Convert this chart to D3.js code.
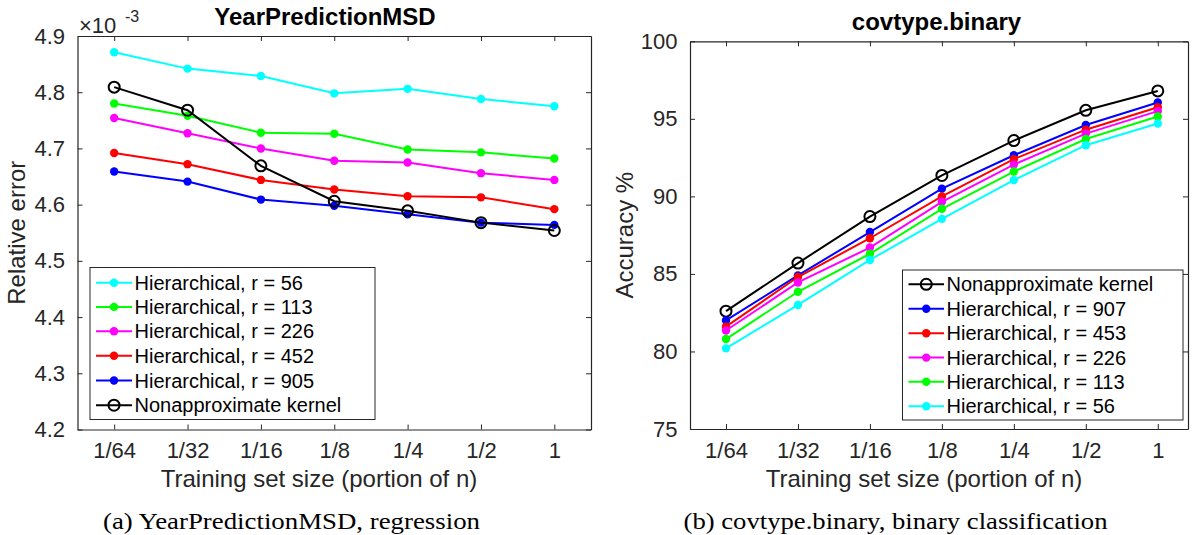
<!DOCTYPE html>
<html>
<head>
<meta charset="utf-8">
<script src="https://cdn.jsdelivr.net/npm/d3@7"></script>
<style>
  body { margin: 0; background: #fff; }
  svg { display: block; }
  .tick text { font-family: "Liberation Sans", Arial, sans-serif; fill: #262626; }
  .tick line, .domain { stroke: #262626; }
</style>
</head>
<body>
<div class="chart"></div>
<script>
// Training set sizes (x categories)
var sizeLabels = ["1/64", "1/32", "1/16", "1/8", "1/4", "1/2", "1"];

// YearPredictionMSD relative error (x 1e-3)
var msdR56 = [4.871, 4.842, 4.829, 4.798, 4.806, 4.788, 4.775];
var msdR113 = [4.780, 4.758, 4.728, 4.726, 4.698, 4.693, 4.682];
var msdR226 = [4.754, 4.727, 4.700, 4.678, 4.675, 4.656, 4.644];
var msdR452 = [4.692, 4.672, 4.644, 4.627, 4.615, 4.613, 4.592];
var msdR905 = [4.659, 4.641, 4.609, 4.598, 4.583, 4.568, 4.564];
var msdExact = [4.809, 4.768, 4.669, 4.606, 4.589, 4.568, 4.554];
var msdTicks = [4.2, 4.3, 4.4, 4.5, 4.6, 4.7, 4.8, 4.9];

// covtype.binary accuracy %
var covExact = [82.6, 85.7, 88.7, 91.35, 93.6, 95.55, 96.8];
var covR907 = [82.0, 84.9, 87.7, 90.5, 92.65, 94.6, 96.05];
var covR453 = [81.6, 84.8, 87.3, 90.0, 92.4, 94.3, 95.75];
var covR226 = [81.35, 84.45, 86.7, 89.65, 92.05, 94.05, 95.5];
var covR113 = [80.8, 83.85, 86.3, 89.2, 91.6, 93.7, 95.15];
var covR56 = [80.2, 83.0, 85.9, 88.55, 91.05, 93.3, 94.7];
var covTicks = [75, 80, 85, 90, 95, 100];

var svg = d3.select(".chart").append("svg")
    .attr("width", 1195)
    .attr("height", 535);

// draws one panel: axes box, ticks, lines, markers, legend
function drawPanel(cfg) {
    var x = d3.scaleLinear().domain(cfg.xDomain).range([cfg.left, cfg.right]);
    var y = d3.scaleLinear().domain(cfg.yDomain).range([cfg.bottom, cfg.top]);
    var idx = d3.range(1, sizeLabels.length + 1);

    var g = svg.append("g");

    // bottom axis with labels
    var bottomAxis = d3.axisBottom(x).tickValues(idx)
        .tickFormat(function(d) { return sizeLabels[d - 1]; })
        .tickSizeInner(-5).tickSizeOuter(0).tickPadding(13);
    g.append("g").attr("transform", "translate(0," + cfg.bottom + ")").call(bottomAxis)
        .selectAll("text").style("font-size", "22px");

    var leftAxis = d3.axisLeft(y).tickValues(cfg.yTicks)
        .tickFormat(cfg.yFormat)
        .tickSizeInner(-5).tickSizeOuter(0).tickPadding(12.5);
    g.append("g").attr("transform", "translate(" + cfg.left + ",0)").call(leftAxis)
        .selectAll("text").style("font-size", "22px");

    // mirrored ticks on top and right
    g.append("g").attr("transform", "translate(0," + cfg.top + ")")
        .call(d3.axisTop(x).tickValues(idx).tickFormat("").tickSizeInner(-5).tickSizeOuter(0));
    g.append("g").attr("transform", "translate(" + cfg.right + ",0)")
        .call(d3.axisRight(y).tickValues(cfg.yTicks).tickFormat("").tickSizeInner(-5).tickSizeOuter(0));

    g.selectAll(".domain").attr("stroke-width", 1.2);

    // series
    var line = d3.line()
        .x(function(d, i) { return x(i + 1); })
        .y(function(d) { return y(d); });

    cfg.series.forEach(function(s) {
        var sg = g.append("g");
        sg.append("path").datum(s.values)
            .attr("d", line)
            .attr("fill", "none")
            .attr("stroke", s.color)
            .attr("stroke-width", 2);
        sg.selectAll("circle").data(s.values).enter().append("circle")
            .attr("cx", function(d, i) { return x(i + 1); })
            .attr("cy", function(d) { return y(d); })
            .attr("r", s.open ? 5.5 : 4.2)
            .attr("fill", s.open ? "none" : s.color)
            .attr("stroke", s.color)
            .attr("stroke-width", s.open ? 2 : 0);
    });

    // title and labels
    g.append("text")
        .attr("x", cfg.titleX).attr("y", cfg.top - 11)
        .attr("text-anchor", "middle")
        .style("font-family", "Liberation Sans, Arial, sans-serif")
        .style("font-size", "24px").style("font-weight", "bold")
        .text(cfg.title);

    g.append("text")
        .attr("x", cfg.xLabelX).attr("y", 486.5)
        .attr("text-anchor", "middle")
        .style("font-family", "Liberation Sans, Arial, sans-serif")
        .style("font-size", "24px").style("fill", "#262626")
        .text("Training set size (portion of n)");

    g.append("text")
        .attr("transform", "translate(" + cfg.yLabelX + "," + ((cfg.top + cfg.bottom) / 2) + ") rotate(-90)")
        .attr("text-anchor", "middle")
        .style("font-family", "Liberation Sans, Arial, sans-serif")
        .style("font-size", "24px").style("fill", "#262626")
        .text(cfg.yLabel);

    // caption
    g.append("text")
        .attr("x", cfg.capX).attr("y", 529)
        .attr("textLength", cfg.capW).attr("lengthAdjust", "spacingAndGlyphs")
        .style("font-family", "Liberation Serif, Times New Roman, serif")
        .style("font-size", "23px")
        .text(cfg.caption);

    // legend
    var lg = cfg.legend;
    var leg = g.append("g");
    leg.append("rect")
        .attr("x", lg.x0).attr("y", lg.y0)
        .attr("width", lg.x1 - lg.x0).attr("height", lg.y1 - lg.y0)
        .attr("fill", "#fff").attr("stroke", "#262626").attr("stroke-width", 1);
    lg.order.forEach(function(k, j) {
        var s = cfg.series[k];
        var cy = lg.rows[j];
        leg.append("line")
            .attr("x1", lg.lineX0).attr("x2", lg.lineX1)
            .attr("y1", cy).attr("y2", cy)
            .attr("stroke", s.color).attr("stroke-width", 2);
        leg.append("circle")
            .attr("cx", (lg.lineX0 + lg.lineX1) / 2).attr("cy", cy)
            .attr("r", s.open ? 5.5 : 4.2)
            .attr("fill", s.open ? "none" : s.color)
            .attr("stroke", s.color).attr("stroke-width", s.open ? 2 : 0);
        leg.append("text")
            .attr("x", lg.textX).attr("y", cy + 7)
            .style("font-family", "Liberation Sans, Arial, sans-serif")
            .style("font-size", "20px")
            .text(s.name);
    });

    return g;
}

var left = drawPanel({
    left: 77.5, right: 591, top: 36, bottom: 429.5,
    xDomain: [0.5, 7.5], yDomain: [4.2, 4.9],
    yTicks: msdTicks, yFormat: d3.format(".1f"),
    title: "YearPredictionMSD", titleX: 325,
    xLabelX: 319, yLabel: "Relative error", yLabelX: 25,
    caption: "(a) YearPredictionMSD, regression", capX: 103, capW: 377,
    series: [
        { name: "Hierarchical, r = 56", values: msdR56, color: "#00ffff" },
        { name: "Hierarchical, r = 113", values: msdR113, color: "#00ff00" },
        { name: "Hierarchical, r = 226", values: msdR226, color: "#ff00ff" },
        { name: "Hierarchical, r = 452", values: msdR452, color: "#ff0000" },
        { name: "Hierarchical, r = 905", values: msdR905, color: "#0000ff" },
        { name: "Nonapproximate kernel", values: msdExact, color: "#000000", open: true }
    ],
    legend: {
        x0: 90, x1: 375, y0: 267.5, y1: 419.5,
        lineX0: 96, lineX1: 132, textX: 134.5,
        rows: [282.7, 306.9, 331.3, 355.8, 380.5, 405.2],
        order: [0, 1, 2, 3, 4, 5]
    }
});

// x10^-3 exponent label
left.append("text")
    .attr("x", 79).attr("y", 32.5)
    .style("font-family", "Liberation Sans, Arial, sans-serif")
    .style("font-size", "22px").style("fill", "#262626")
    .text("\u00d710");
left.append("text")
    .attr("x", 125).attr("y", 21.5)
    .style("font-family", "Liberation Sans, Arial, sans-serif")
    .style("font-size", "16px").style("fill", "#262626")
    .text("-3");

drawPanel({
    left: 690, right: 1188, top: 41.3, bottom: 429,
    xDomain: [0.5, 7.42], yDomain: [75, 100],
    yTicks: covTicks, yFormat: d3.format("d"),
    title: "covtype.binary", titleX: 936.5,
    xLabelX: 924, yLabel: "Accuracy %", yLabelX: 633,
    caption: "(b) covtype.binary, binary classification", capX: 683.5, capW: 424,
    series: [
        { name: "Nonapproximate kernel", values: covExact, color: "#000000", open: true },
        { name: "Hierarchical, r = 907", values: covR907, color: "#0000ff" },
        { name: "Hierarchical, r = 453", values: covR453, color: "#ff0000" },
        { name: "Hierarchical, r = 226", values: covR226, color: "#ff00ff" },
        { name: "Hierarchical, r = 113", values: covR113, color: "#00ff00" },
        { name: "Hierarchical, r = 56", values: covR56, color: "#00ffff" }
    ],
    legend: {
        x0: 902.5, x1: 1183, y0: 270, y1: 420,
        lineX0: 908.5, lineX1: 944, textX: 946.5,
        rows: [284.3, 308.7, 333.2, 357.6, 381.8, 406.3],
        order: [0, 1, 2, 3, 4, 5]
    }
});
</script>
</body>
</html>
